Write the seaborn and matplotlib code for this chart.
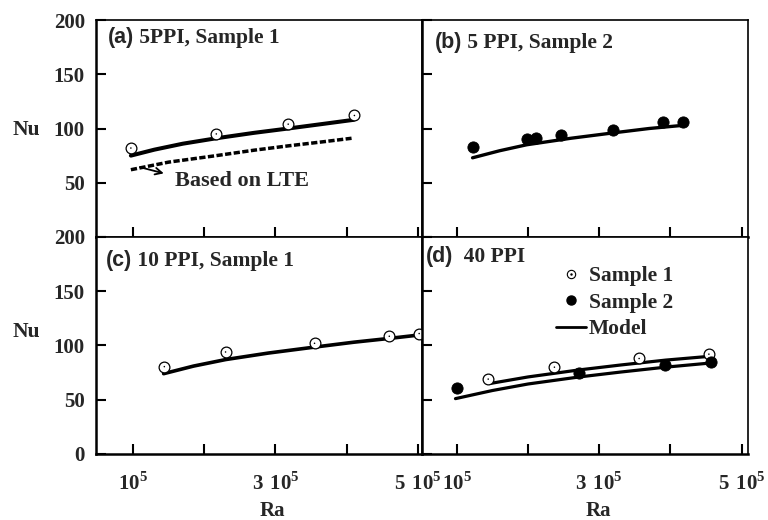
import matplotlib
matplotlib.use('Agg')
import matplotlib.pyplot as plt
from matplotlib.lines import Line2D
import seaborn as sns

sns.set_theme(style='white')
plt.rcParams['font.family'] = ['Liberation Serif', 'DejaVu Serif']
plt.rcParams['font.weight'] = 'bold'
plt.rcParams['mathtext.fontset'] = 'custom'
plt.rcParams['mathtext.rm'] = 'Liberation Serif:bold'
plt.rcParams['mathtext.bf'] = 'Liberation Serif:bold'

# (a) 5 PPI, sample 1
a_s1_ra = [0.97e5, 2.17e5, 3.18e5, 4.11e5]
a_s1_nu = [82, 95, 104, 112]
a_model_ra = [0.97e5, 1.3e5, 1.7e5, 2.17e5, 2.7e5, 3.18e5, 3.7e5, 4.1e5]
a_model_nu = [75, 80.5, 86, 91, 96, 100, 104.5, 108]
a_lte_ra = [0.97e5, 1.5e5, 2.17e5, 2.7e5, 3.18e5, 3.7e5, 4.07e5]
a_lte_nu = [62, 69, 75, 80, 84, 88, 91]

# (b) 5 PPI, sample 2
b_s2_ra = [1.23e5, 1.98e5, 2.11e5, 2.46e5, 3.20e5, 3.89e5, 4.18e5]
b_s2_nu = [83, 90, 91, 94, 99, 106, 106]
b_model_ra = [1.22e5, 1.6e5, 1.98e5, 2.6e5, 3.2e5, 3.7e5, 4.19e5]
b_model_nu = [73, 79.5, 85, 91, 96, 100, 103]

# (c) 10 PPI, sample 1
c_s1_ra = [1.44e5, 2.30e5, 3.55e5, 4.60e5, 5.02e5]
c_s1_nu = [80.5, 94, 102, 108.5, 111]
c_model_ra = [1.43e5, 1.85e5, 2.3e5, 2.9e5, 3.55e5, 4.1e5, 4.6e5, 5.0e5]
c_model_nu = [74, 81, 87, 93, 98.5, 103, 106.5, 109.5]

# (d) 40 PPI
d_s1_ra = [1.44e5, 2.37e5, 3.56e5, 4.54e5]
d_s1_nu = [69, 80, 88, 92]
d_s2_ra = [1.0e5, 2.72e5, 3.93e5, 4.57e5]
d_s2_nu = [61, 75, 82, 85]
d_model1_ra = [1.47e5, 2.0e5, 2.72e5, 3.3e5, 3.93e5, 4.55e5]
d_model1_nu = [65, 71, 77.5, 82, 86.5, 90]
d_model2_ra = [0.98e5, 1.5e5, 2.0e5, 2.72e5, 3.3e5, 3.93e5, 4.59e5]
d_model2_nu = [51, 58.5, 64.5, 71, 75.5, 80, 84]

titles = ['(a)', '(b)', '(c)', '(d)']
subtitles = [' 5PPI, Sample 1', ' 5 PPI, Sample 2', ' 10 PPI, Sample 1', '  40 PPI']
ra_ticks = [1e5, 2e5, 3e5, 4e5, 5e5]
ra_ticklabels = [r'$10^5$', '', r'$3\ 10^5$', '', r'$5\ 10^5$']
nu_ticks = [0, 50, 100, 150, 200]

fig, axes = plt.subplots(2, 2, figsize=(7.68, 5.2), dpi=100)
fig.subplots_adjust(left=0.125, right=0.974, top=0.9615, bottom=0.127, wspace=0, hspace=0)
ax_a, ax_b, ax_c, ax_d = axes.flat


def open_pts(ax, x, y):
    sns.scatterplot(x=x, y=y, ax=ax, marker='o', s=60, color='white',
                    edgecolor='black', linewidth=0.9, zorder=3)
    sns.scatterplot(x=x, y=y, ax=ax, marker='.', s=5, color='black',
                    edgecolor='none', zorder=4)


def filled_pts(ax, x, y):
    sns.scatterplot(x=x, y=y, ax=ax, marker='o', s=65, color='black',
                    edgecolor='black', zorder=3)


def model(ax, x, y, lw=2.5, **kw):
    sns.lineplot(x=x, y=y, ax=ax, color='black', lw=lw, sort=False,
                 estimator=None, zorder=2, **kw)


# panel a
model(ax_a, a_model_ra, a_model_nu, lw=2.9)
model(ax_a, a_lte_ra, a_lte_nu, lw=2.5, dashes=(1.8, 0.7))
open_pts(ax_a, a_s1_ra, a_s1_nu)
ax_a.annotate('', xy=(1.47e5, 58), xytext=(1.06e5, 65),
              arrowprops=dict(arrowstyle='->', color='black', lw=1.3))
ax_a.text(1.59e5, 52, 'Based on LTE', fontsize=16, fontweight='bold',
          va='center', ha='left')

# panel b
model(ax_b, b_model_ra, b_model_nu, lw=2.4)
filled_pts(ax_b, b_s2_ra, b_s2_nu)

# panel c
model(ax_c, c_model_ra, c_model_nu, lw=2.6)
open_pts(ax_c, c_s1_ra, c_s1_nu)
for coll in ax_c.collections:
    coll.set_clip_on(False)

# panel d
model(ax_d, d_model1_ra, d_model1_nu, lw=2.3)
model(ax_d, d_model2_ra, d_model2_nu, lw=2.3)
open_pts(ax_d, d_s1_ra, d_s1_nu)
filled_pts(ax_d, d_s2_ra, d_s2_nu)

h_s1 = (Line2D([], [], marker='o', ls='none', mfc='white', mec='black', ms=6, mew=0.8),
        Line2D([], [], marker='.', ls='none', color='black', ms=1.5))
h_s2 = Line2D([], [], marker='o', ls='none', color='black', ms=6.5)
h_mod = Line2D([], [], color='black', lw=2)
ax_d.legend([h_s1, h_s2, h_mod], ['Sample 1', 'Sample 2', 'Model'],
            loc='upper left', bbox_to_anchor=(0.41, 0.865), frameon=False,
            borderpad=0, borderaxespad=0, handlelength=1.4, handletextpad=0.15,
            labelspacing=0.3, prop={'family': 'Liberation Serif', 'weight': 'bold', 'size': 15.5})

# axes styling
for i, ax in enumerate(axes.flat):
    top_row = i < 2
    left_col = i % 2 == 0
    ax.set_ylim(0, 200)
    ax.set_xlim((0.48e5, 5.06e5) if left_col else (0.51e5, 5.09e5))
    ax.set_xticks(ra_ticks)
    ax.set_yticks(nu_ticks)
    if top_row:
        ax.set_xticklabels([])
        ax.set_xlabel('')
    else:
        ax.set_xticklabels(ra_ticklabels)
        ax.set_xlabel('Ra', fontsize=15, fontweight='bold', va='center')
        ax.xaxis.set_label_coords(0.54, -0.265)
    if left_col:
        labels = ['', '50', '100', '150', '200'] if top_row else ['0', '50', '100', '150', '200']
        ax.set_yticklabels(labels)
        ax.set_ylabel('Nu', fontsize=15.5, fontweight='bold', rotation=0, va='center', ha='center')
        ax.yaxis.set_label_coords(-0.215, 0.495 if top_row else 0.56)
    else:
        ax.set_yticklabels([])
        ax.set_ylabel('')
    ax.tick_params(axis='both', direction='in', length=7, width=1.5, color='black',
                   labelsize=15, bottom=True, left=True, top=False, right=False)
    ax.tick_params(axis='y', pad=8)
    ax.tick_params(axis='x', pad=13)
    for side, sp in ax.spines.items():
        sp.set_color('black')
        sp.set_visible(True)
        sp.set_linewidth(1.8 if side in ('left', 'bottom') else 1.2)
    ax.set_facecolor('white')

# panel titles: letter in sans, rest in serif
fig.canvas.draw()
title_x = [0.037, 0.04, 0.03, 0.012]
title_y = [0.893, 0.873, 0.868, 0.885]
for ax, letter, rest, tx, ty in zip(axes.flat, titles, subtitles, title_x, title_y):
    t = ax.text(tx, ty, letter, transform=ax.transAxes, fontsize=15.5,
                family='Liberation Sans', fontweight='bold', va='baseline', ha='left')
    bb = t.get_window_extent(renderer=fig.canvas.get_renderer())
    x_end = ax.transAxes.inverted().transform((bb.x1, bb.y0))[0]
    ax.text(x_end, ty, rest, transform=ax.transAxes, fontsize=15.5,
            fontweight='bold', va='baseline', ha='left')

fig.savefig('out.png', dpi=100, facecolor='white')
